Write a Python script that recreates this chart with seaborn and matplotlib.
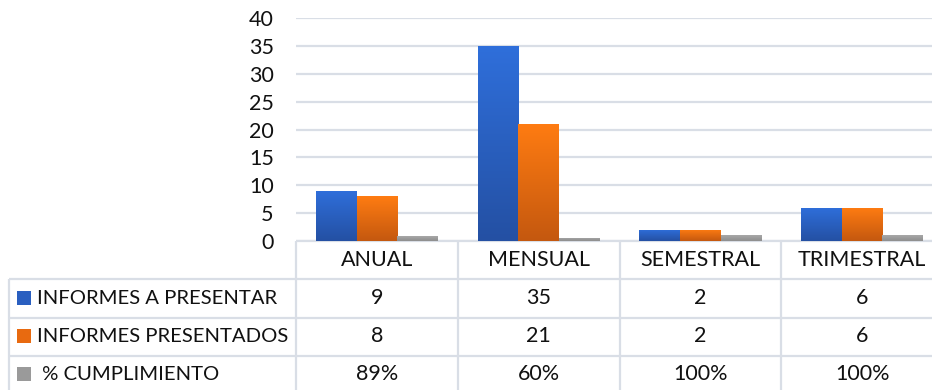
import numpy as np
import pandas as pd
import matplotlib
matplotlib.use("Agg")
import matplotlib.pyplot as plt
import matplotlib.transforms as mtransforms
from matplotlib.colors import LinearSegmentedColormap, to_hex
from matplotlib.patches import Rectangle
import seaborn as sns

# ---- data ----
categories = ["ANUAL", "MENSUAL", "SEMESTRAL", "TRIMESTRAL"]
series_names = ["INFORMES A PRESENTAR", "INFORMES PRESENTADOS", " % CUMPLIMIENTO"]
a_presentar = [9, 35, 2, 6]
presentados = [8, 21, 2, 6]
cumplimiento = [0.89, 0.60, 1.00, 1.00]
cumplimiento_labels = ["89%", "60%", "100%", "100%"]
y_ticks = [0, 5, 10, 15, 20, 25, 30, 35, 40]

# ---- style ----
sns.set_theme(style="white")
plt.rcParams['font.family'] = ['Lato', 'DejaVu Sans']
FS = 15.5
FS_ROW = 14.6
TXT = "#111111"
LINE = "#D9DEE6"

grad = {
    0: ("#2F6FDB", "#2450A3"),
    1: ("#FF7C12", "#C4580F"),
    2: ("#A8A8A8", "#8E8E8E"),
}
mid = {0: "#2A5FC0", 1: "#E86A10", 2: "#9A9A9A"}

W, H = 932, 390
fig = plt.figure(figsize=(W / 100, H / 100), dpi=100)

ax_left, ax_right, ax_top, ax_bottom = 296, 943, 18, 241
ax = fig.add_axes([ax_left / W, (H - ax_bottom) / H,
                   (ax_right - ax_left) / W, (ax_bottom - ax_top) / H])

df = pd.DataFrame({
    "cat": categories * 3,
    "serie": [series_names[0]] * 4 + [series_names[1]] * 4 + [series_names[2]] * 4,
    "val": a_presentar + presentados + cumplimiento,
})
palette = {series_names[i]: mid[i] for i in range(3)}
sns.barplot(data=df, x="cat", y="val", hue="serie", hue_order=series_names,
            order=categories, palette=palette, width=0.755, saturation=1,
            edgecolor="none", linewidth=0, legend=False, ax=ax, zorder=3)

# gradient overlay on each bar
mid_lookup = {to_hex(v).lower(): k for k, v in mid.items()}
gradimg = np.linspace(0, 1, 256).reshape(-1, 1)
for p in list(ax.patches):
    k = mid_lookup.get(to_hex(p.get_facecolor()).lower())
    if k is None:
        continue
    x, y = p.get_x(), p.get_y()
    w, h = p.get_width(), p.get_height()
    cmap = LinearSegmentedColormap.from_list("g", [grad[k][0], grad[k][1]])
    im = ax.imshow(gradimg, extent=[x, x + w, y, y + h], origin="upper",
                   cmap=cmap, aspect="auto", zorder=4, interpolation="bilinear")
    im.set_clip_path(p)

ax.set_xlim(-0.5, 3.5)
ax.set_ylim(0, 40)
ax.set_yticks(y_ticks)
ax.set_yticklabels([str(t) for t in y_ticks], fontsize=FS, color=TXT)
ax.set_xticks([])
ax.set_xlabel("")
ax.set_ylabel("")
ax.tick_params(axis="y", length=0, pad=16)
for s in ax.spines.values():
    s.set_visible(False)
ax.yaxis.grid(True, color=LINE, linewidth=1.6, zorder=0)
ax.set_axisbelow(True)
ax.set_facecolor("none")

# ---- data table ----
tax = fig.add_axes([0, 0, 1, 1], zorder=-1)
tax.set_xlim(0, W)
tax.set_ylim(H, 0)
tax.axis("off")
tr = mtransforms.blended_transform_factory(ax.transData, tax.transData)

row_lines = [279, 318, 356]
row_centers = [260, 298, 336, 374]
lk = dict(color=LINE, linewidth=1.6, solid_capstyle="butt")

tax.plot([ax_left, W + 20], [ax_bottom, ax_bottom], **lk)
for yl in row_lines:
    tax.plot([9, W + 20], [yl, yl], **lk)
tax.plot([9, 9], [279, H + 5], **lk)
for i in range(len(categories) + 1):
    ax.plot([i - 0.5, i - 0.5], [ax_bottom, H + 5], transform=tr,
            clip_on=False, **lk)

for i, c in enumerate(categories):
    ax.text(i, row_centers[0], c, transform=tr, ha="center", va="center",
            fontsize=FS, color=TXT)

rows = [
    [str(v) for v in a_presentar],
    [str(v) for v in presentados],
    cumplimiento_labels,
]
for r, vals in enumerate(rows):
    yc = row_centers[r + 1]
    sq = Rectangle((17, yc - 7), 14, 14, facecolor=mid[r], edgecolor="none")
    tax.add_patch(sq)
    tax.text(37, yc, series_names[r], ha="left", va="center",
             fontsize=FS_ROW, color=TXT)
    for i, v in enumerate(vals):
        ax.text(i, yc, v, transform=tr, ha="center", va="center",
                fontsize=FS, color=TXT)

fig.savefig("out.png", dpi=100)
